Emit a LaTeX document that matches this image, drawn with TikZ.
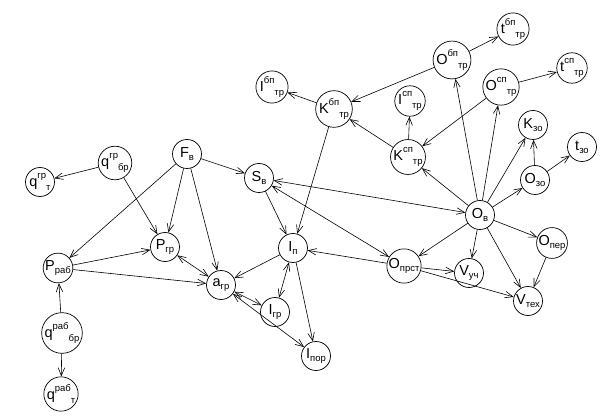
\documentclass[tikz,border=0pt]{standalone}
\usepackage{fontspec}
\setmainfont{Liberation Sans}
\usetikzlibrary{arrows.meta}
\newcommand{\xsub}[1]{\raisebox{-0.4ex}{\fontsize{9.5}{9.5}\selectfont #1}}
\newcommand{\xsubb}[1]{\raisebox{-0.6ex}{\fontsize{9.5}{9.5}\selectfont #1}}
\newcommand{\xsup}[1]{\raisebox{1.0ex}{\fontsize{9.5}{9.5}\selectfont #1}}
\begin{document}
\begin{tikzpicture}[x=1pt,y=-1pt,
  vx/.style={circle,draw,line width=0.7pt,minimum size=29pt,inner sep=0pt,font=\fontsize{14.5}{15}\selectfont},
  ar/.style={line width=0.6pt,-{Straight Barb[length=8pt,width=6.5pt]}},
  br/.style={line width=0.6pt,{Straight Barb[length=8pt,width=6.5pt]}-{Straight Barb[length=8pt,width=6.5pt]}}]
\useasboundingbox (0,0) rectangle (606,417);
\node[vx] (qgrt) at (40,182) {q\xsup{гр}\xsubb{т}};
\node[vx] (qgrbr) at (115,163) {q\xsup{гр}\xsubb{бр}};
\node[vx] (Fv) at (187,154) {F\xsub{в}};
\node[vx] (Sv) at (259,178) {S\xsub{в}};
\node[vx] (Pgr) at (165,247) {P\xsub{гр}};
\node[vx] (Prab) at (58,268) {P\xsub{раб}};
\node[vx] (In) at (293,248) {I\xsub{п}};
\node[vx] (agr) at (221,285) {a\xsub{гр}};
\node[vx] (Igr) at (275,312) {I\xsub{гр}};
\node[vx] (Ipor) at (316,356) {I\xsub{пор}};
\node[vx] (qrabbr) at (62,333) {q\xsup{раб}\xsubb{бр}};
\node[vx] (qrabt) at (61,394) {q\xsup{раб}\xsubb{т}};
\node[vx] (tbp) at (513,29) {t\xsup{бп}\xsubb{тр}};
\node[vx] (Obp) at (452,60) {O\xsup{бп}\xsubb{тр}};
\node[vx] (tsp) at (572,68) {t\xsup{сп}\xsubb{тр}};
\node[vx] (Osp) at (501,87) {O\xsup{сп}\xsubb{тр}};
\node[vx] (Ibp) at (272,87) {I\xsup{бп}\xsubb{тр}};
\node[vx] (Kbp) at (334,109) {K\xsup{бп}\xsubb{тр}};
\node[vx] (Isp) at (410,101) {I\xsup{сп}\xsubb{тр}};
\node[vx] (Kzo) at (533,125) {K\xsub{зо}};
\node[vx] (tzo) at (582,147) {t\xsub{зо}};
\node[vx] (Ksp) at (408,157) {K\xsup{сп}\xsubb{тр}};
\node[vx] (Ozo) at (535,180) {O\xsub{зо}};
\node[vx] (Ov) at (480,215) {O\xsub{в}};
\node[vx] (Oprst) at (404,266) {O\xsub{прст}};
\node[vx] (Vuch) at (469,273) {V\xsub{уч}};
\node[vx] (Oper) at (552,243) {O\xsub{пер}};
\node[vx] (Vtex) at (528,301) {V\xsub{тех}};
% edges
\draw[ar] (qgrbr) -- (qgrt);
\draw[ar] (qgrbr) -- (Pgr);
\draw[ar] (Fv) -- (Prab);
\draw[ar] (Fv) -- (Pgr);
\draw[ar] (Fv) -- (agr);
\draw[ar] (Fv) -- (Sv);
\draw[ar] (Prab) -- (Pgr);
\draw[ar] (Prab) -- (agr);
\draw[ar] (qrabbr) -- (Prab);
\draw[ar] (qrabbr) -- (qrabt);
\draw[br] (Pgr) -- (agr);
\draw[ar] (In) -- (agr);
\draw[br] (In) -- (Igr);
\draw[ar] (In) -- (Ipor);
\draw[br] (agr) -- (Igr);
\draw[br] (agr) -- (Ipor);
\draw[ar] (Sv) -- (In);
\draw[ar] (Kbp) -- (In);
\draw[ar] (Kbp) -- (Ibp);
\draw[ar] (Obp) -- (Kbp);
\draw[ar] (Obp) -- (tbp);
\draw[ar] (Ksp) -- (Kbp);
\draw[ar] (Ksp) -- (Isp);
\draw[ar] (Osp) -- (Ksp);
\draw[ar] (Osp) -- (tsp);
\draw[ar] (Ov) -- (Obp);
\draw[ar] (Ov) -- (Osp);
\draw[ar] (Ov) -- (Ksp);
\draw[ar] (Ov) -- (Kzo);
\draw[ar] (Ov) -- (Ozo);
\draw[ar] (Ozo) -- (Kzo);
\draw[ar] (Ozo) -- (tzo);
\draw[br] (Ov) -- (Sv);
\draw[br] (Oprst) -- (Sv);
\draw[ar] (Ov) -- (Oprst);
\draw[ar] (Ov) -- (Vuch);
\draw[ar] (Ov) -- (Oper);
\draw[ar] (Ov) -- (Vtex);
\draw[ar] (Oper) -- (Vtex);
\draw[ar] (Oprst) -- (In);
\draw[ar] (Oprst) -- (Vuch);
\draw[ar] (Oprst) -- (Vtex);
\end{tikzpicture}
\end{document}
